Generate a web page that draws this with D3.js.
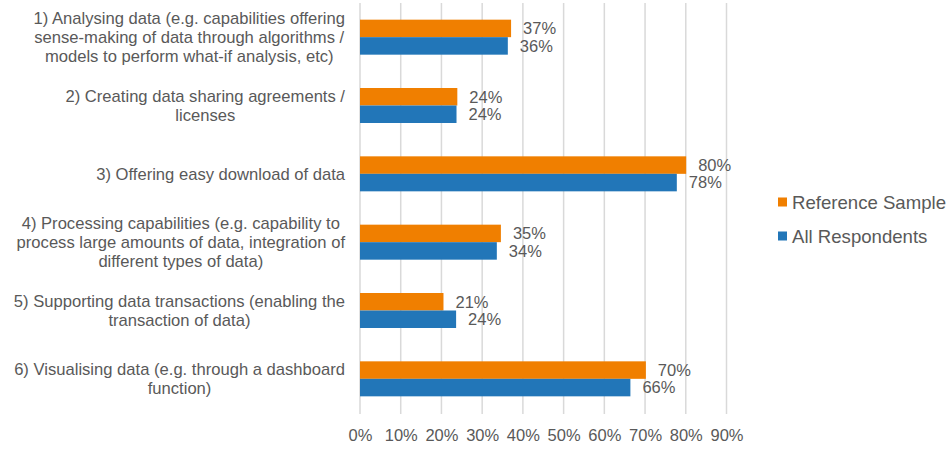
<html>
<head>
    <style>
        body { margin: 0; background: #ffffff; font-family: "Liberation Sans", Arial, Helvetica, sans-serif; }
        svg { display: block; }
    </style>
    <script src="https://cdn.jsdelivr.net/npm/d3@7"></script>
</head>
<body>
<svg id="grafico"></svg>
<script>
    // categorias (cada una partida en lineas como en el original)
    let categorias = [
        ["1) Analysing data (e.g. capabilities offering", "sense-making of data through algorithms /", "models to perform what-if analysis, etc)"],
        ["2) Creating data sharing agreements /", "licenses"],
        ["3) Offering easy download of data"],
        ["4) Processing capabilities (e.g. capability to", "process large amounts of data, integration of", "different types of data)"],
        ["5) Supporting data transactions (enabling the", "transaction of data)"],
        ["6) Visualising data (e.g. through a dashboard", "function)"]
    ];
    let series = ["Reference Sample", "All Respondents"];
    let referenceSample = [37.1, 23.9, 80.1, 34.6, 20.5, 70.2];
    let allRespondents  = [36.3, 23.7, 77.8, 33.6, 23.6, 66.4];
    let ticksX = [0, 10, 20, 30, 40, 50, 60, 70, 80, 90];
    let colores = ["#f07f00", "#2276b8"];

    let ancho = 950, alto = 450;
    let margenes = { top: 3, bottom: 37, left: 360, right: 223.5 };
    let gris = "#595959";
    let fuente = "'Liberation Sans', Arial, sans-serif";

    let contenedor = d3.select("#grafico").attr("width", ancho).attr("height", alto)
        .style("font-family", fuente);

    let filas = categorias.map((c, i) => ({
        id: i, lineas: c, valores: [referenceSample[i], allRespondents[i]]
    }));

    let escalaX = d3.scaleLinear()
        .domain([0, 90])
        .range([margenes.left, ancho - margenes.right]);

    let escalaY = d3.scaleBand()
        .domain(filas.map(f => f.id))
        .range([margenes.top, alto - margenes.bottom]);

    let altoBarra = 17.5;
    let escalaSerie = d3.scaleBand()
        .domain(series)
        .range([escalaY.bandwidth() / 2 - altoBarra, escalaY.bandwidth() / 2 + altoBarra]);

    // rejilla vertical
    contenedor.append("g")
        .selectAll("line")
        .data(ticksX)
        .enter().append("line")
            .attr("x1", d => escalaX(d)).attr("x2", d => escalaX(d))
            .attr("y1", margenes.top).attr("y2", alto - margenes.bottom + 1)
            .attr("stroke", "#d9d9d9")
            .attr("stroke-width", 1.5);

    // eje X (solo etiquetas)
    let ejeX = d3.axisBottom(escalaX).tickValues(ticksX).tickFormat(d => d + "%").tickSize(0).tickPadding(0);
    let gEjeX = contenedor.append("g")
        .attr("transform", `translate(0,${alto - margenes.bottom + 3})`)
        .call(ejeX);
    gEjeX.select(".domain").remove();
    gEjeX.selectAll("text")
        .attr("dy", "1.05em")
        .attr("y", 8)
        .style("font-size", "16.5px")
        .style("font-family", fuente)
        .attr("fill", gris);

    // barras
    let grupos = contenedor.append("g")
        .selectAll(".grupo")
        .data(filas)
        .enter().append("g")
            .attr("transform", d => `translate(0,${escalaY(d.id)})`);

    grupos.selectAll("rect")
        .data(d => d.valores.map((v, k) => ({ serie: series[k], valor: v, k })))
        .enter().append("rect")
            .attr("x", escalaX(0))
            .attr("y", d => escalaSerie(d.serie))
            .attr("width", d => escalaX(d.valor) - escalaX(0))
            .attr("height", escalaSerie.bandwidth())
            .attr("fill", d => colores[d.k]);

    grupos.selectAll(".etiqueta")
        .data(d => d.valores.map((v, k) => ({ serie: series[k], valor: v, k })))
        .enter().append("text")
            .attr("x", d => escalaX(d.valor) + 12)
            .attr("y", d => escalaSerie(d.serie) + escalaSerie.bandwidth() / 2)
            .attr("dy", "0.35em")
            .style("font-size", "16.5px")
            .attr("fill", gris)
            .text(d => Math.round(d.valor) + "%");

    // etiquetas de categorias: bloque alineado a la derecha, lineas centradas
    let altoLinea = 19;
    let bordeDerecho = 345;
    grupos.each(function (d) {
        let g = d3.select(this);
        let texto = g.append("text")
            .style("font-size", "16.6px")
            .attr("fill", gris)
            .attr("text-anchor", "middle");
        let spans = texto.selectAll("tspan")
            .data(d.lineas)
            .enter().append("tspan")
                .text(l => l);
        let anchoMax = d3.max(spans.nodes().map(n => n.getComputedTextLength()));
        let centroX = bordeDerecho - anchoMax / 2;
        let inicioY = escalaY.bandwidth() / 2 - (d.lineas.length - 1) * altoLinea / 2;
        spans.attr("x", centroX)
            .attr("y", (l, i) => inicioY + i * altoLinea)
            .attr("dy", "0.35em");
    });

    // leyenda
    let leyenda = contenedor.append("g")
        .selectAll(".leyenda")
        .data(series)
        .enter().append("g")
            .attr("transform", (d, i) => `translate(778,${202 + i * 34})`);
    leyenda.append("rect")
        .attr("x", 0).attr("y", -4.5)
        .attr("width", 9).attr("height", 9)
        .attr("fill", (d, i) => colores[i]);
    leyenda.append("text")
        .attr("x", 14).attr("y", 0)
        .attr("dy", "0.35em")
        .style("font-size", "18.6px")
        .attr("fill", gris)
        .text(d => d);
</script>
</body>
</html>
